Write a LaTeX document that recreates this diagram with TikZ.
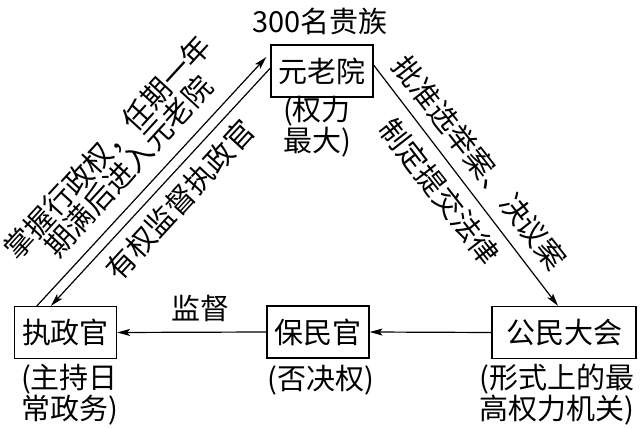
\documentclass[tikz,border=0pt]{standalone}
\usepackage{fontspec}
\setmainfont{Noto Sans CJK SC}
\usetikzlibrary{arrows.meta,calc}

\begin{document}
\begin{tikzpicture}[
  x=1pt, y=1pt,
  line width=1.2pt,
  font=\fontsize{29pt}{28pt}\selectfont,
  organ/.style={draw, minimum width=102pt, minimum height=52pt, inner sep=4pt},
  note/.style={align=center, inner sep=0pt},
  flow/.style={-{Stealth[length=13pt,width=7pt,inset=3pt]}},
  tilted/.style={align=center, inner sep=0pt, font=\fontsize{29pt}{27pt}\selectfont}
]
  \useasboundingbox (0,0) rectangle (641,429);

  \node[organ] (yuanlao) at (322,358) {元老院};
  \node[organ] (zhizheng) at (65.5,96.5) {执政官};
  \node[organ] (baomin) at (318,97) {保民官};
  \node[organ, minimum width=144pt] (gongmin) at (564,96.5) {公民大会};

  \node[note] (guizu) at (320,408) {300名贵族};
  \node[note] (quanli) at (317,302) {(权力\\最大)};
  \node[note] (richang) at (69.5,34) {(主持日\\常政务)};
  \node[note] (foujue) at (321,49) {(否决权)};
  \node[note] (zuigao) at (557,34) {(形式上的最\\高权力机关)};

  \draw[flow] ($(zhizheng.north west)+(23,0)$) -- ($(yuanlao.west)+(-4,14)$);
  \draw[flow] ($(yuanlao.west)+(0,3)$) -- ($(zhizheng.north west)+(37,0)$);
  \draw[flow] ($(yuanlao.east)+(0,6)$) -- ($(gongmin.north)+(-6,0)$);
  \draw[flow] (gongmin.west) -- (baomin.east);
  \draw[flow] (baomin.west) -- (zhizheng.east);

  \node[tilted, rotate=47.5] (zhangwo) at (118,272) {掌握行政权，任期一年\\期满后进入元老院};
  \node[tilted, rotate=47.5] (youquan) at (180,229) {有权监督执政官};
  \node[tilted, rotate=-52] (pizhun) at (480,266) {批准选举案、决议案};
  \node[tilted, rotate=-52] (zhiding) at (440,237.5) {制定提交法律};
  \node[note] (jiandu) at (200,121) {监督};
\end{tikzpicture}
\end{document}
